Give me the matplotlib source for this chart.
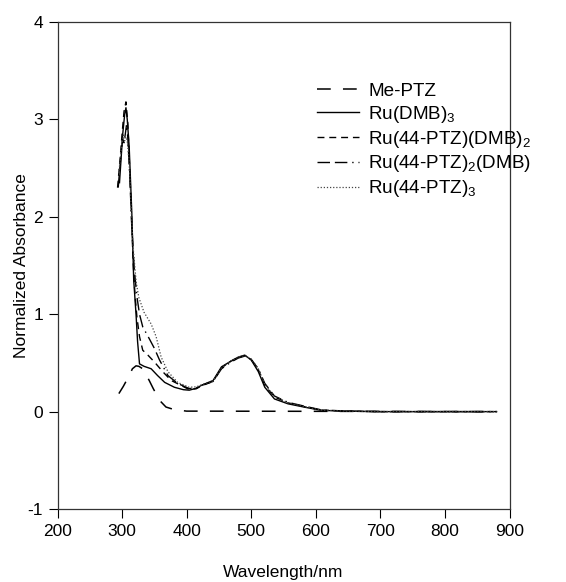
import matplotlib
matplotlib.use("Agg")
import matplotlib.pyplot as plt
import matplotlib.ticker as mticker

plt.rcParams['font.family'] = ['Liberation Sans', 'DejaVu Sans']
plt.rcParams['mathtext.fontset'] = 'custom'
plt.rcParams['mathtext.rm'] = 'Liberation Sans'
plt.rcParams['mathtext.it'] = 'Liberation Sans:italic'

# Values (wavelength in nm, normalized absorbance)
me_ptz_nm = [295, 302, 311, 316, 321.6, 326, 332, 342, 348, 358, 368, 381, 400, 880]
me_ptz_abs = [0.185, 0.26, 0.37, 0.44, 0.47, 0.465, 0.44, 0.32, 0.24, 0.116, 0.047, 0.02, 0.005, 0.0]

dmb3_nm = [296, 299, 301, 304, 306, 308, 311, 315, 318, 321.6, 324, 327, 334, 345, 355, 366,
           381, 395, 404, 415, 423, 441, 454, 469, 480, 490, 500, 511, 521, 536, 557, 583,
           609, 650, 700, 880]
dmb3_abs = [2.35, 2.65, 2.85, 3.05, 3.12, 3.0, 2.72, 2.05, 1.35, 1.0, 0.72, 0.49, 0.465, 0.44,
            0.37, 0.30, 0.25, 0.225, 0.22, 0.24, 0.27, 0.32, 0.46, 0.52, 0.56, 0.58, 0.53,
            0.41, 0.25, 0.13, 0.08, 0.045, 0.013, 0.004, 0.0, 0.0]

ptz1_nm = [293, 297, 300, 303, 306, 309, 313, 317, 320, 323, 327, 332, 340, 350, 363, 376,
           391, 404, 415, 423, 441, 454, 469, 480, 490, 500, 511, 521, 536, 557, 583, 609,
           650, 700, 880]
ptz1_abs = [2.3, 2.6, 2.85, 3.08, 3.18, 2.95, 2.3, 1.55, 1.2, 0.97, 0.77, 0.63, 0.58, 0.51,
            0.41, 0.32, 0.27, 0.226, 0.235, 0.265, 0.31, 0.45, 0.52, 0.555, 0.575, 0.535,
            0.43, 0.27, 0.15, 0.09, 0.05, 0.015, 0.004, 0.0, 0.0]

ptz2_nm = [294, 298, 301, 303, 305, 307, 309, 312, 315, 319, 323, 327, 332, 342, 350, 358,
           371, 386, 404, 415, 423, 441, 454, 469, 480, 490, 500, 511, 521, 536, 557, 583,
           609, 650, 700, 880]
ptz2_abs = [2.3, 2.62, 2.8, 2.76, 2.85, 2.95, 2.8, 2.4, 1.9, 1.45, 1.18, 1.0, 0.87, 0.75,
            0.65, 0.53, 0.37, 0.29, 0.236, 0.245, 0.27, 0.31, 0.44, 0.51, 0.55, 0.57, 0.535,
            0.44, 0.29, 0.16, 0.095, 0.055, 0.017, 0.005, 0.0, 0.0]

ptz3_nm = [295, 299, 302, 304, 306, 308, 311, 314, 317, 322, 326, 334, 345, 352.7, 360.5, 371,
           386, 404, 415, 423, 441, 454, 469, 480, 490, 500, 511, 521, 536, 557, 583, 609,
           650, 700, 880]
ptz3_abs = [2.45, 2.72, 2.84, 2.78, 2.82, 2.78, 2.55, 2.1, 1.69, 1.32, 1.17, 1.02, 0.90, 0.77,
            0.56, 0.41, 0.30, 0.25, 0.255, 0.275, 0.315, 0.45, 0.52, 0.56, 0.575, 0.54, 0.44,
            0.28, 0.155, 0.09, 0.05, 0.015, 0.005, 0.0, 0.0]

x_ticks = [200, 300, 400, 500, 600, 700, 800, 900]
y_ticks = [-1, 0, 1, 2, 3, 4]

fig = plt.figure(figsize=(5.66, 5.82), dpi=100)
ax = fig.add_axes([0.1016, 0.1254, 0.7986, 0.8368])

ax.plot(me_ptz_nm, me_ptz_abs, color='black', lw=1.1, linestyle=(0, (9, 8)),
        label='Me-PTZ')
ax.plot(dmb3_nm, dmb3_abs, color='black', lw=1.0, label='Ru(DMB)$_3$')
ax.plot(ptz1_nm, ptz1_abs, color='black', lw=1.0, linestyle=(0, (5, 3.5)),
        label='Ru(44-PTZ)(DMB)$_2$')
ax.plot(ptz2_nm, ptz2_abs, color='black', lw=1.0, linestyle=(0, (9, 3.5, 9, 3.5, 1, 3.5)),
        label='Ru(44-PTZ)$_2$(DMB)')
ax.plot(ptz3_nm, ptz3_abs, color='#444444', lw=0.9, linestyle=(0, (1, 1.5)),
        label='Ru(44-PTZ)$_3$')

ax.set_xlim(200, 900)
ax.set_ylim(-1, 4)
ax.set_xticks(x_ticks)
ax.set_yticks(y_ticks)
ax.yaxis.set_major_formatter(mticker.FuncFormatter(lambda v, p: '%d' % v))
ax.tick_params(direction='out', length=6.5, width=0.8, labelsize=12.5, pad=4)

for sp in ax.spines.values():
    sp.set_linewidth(0.9)
    sp.set_color('#333333')

ax.set_xlabel('Wavelength/nm', fontsize=12.5, labelpad=19)
ax.set_ylabel('Normalized Absorbance', fontsize=12.5)
ax.yaxis.set_label_coords(-0.063, 0.5)

ax.legend(loc='upper left', bbox_to_anchor=(0.575, 0.875), frameon=False, fontsize=13.6,
          handlelength=2.2, handletextpad=0.5, labelspacing=0.2, borderpad=0,
          borderaxespad=0)

fig.savefig('out.png', dpi=100)
